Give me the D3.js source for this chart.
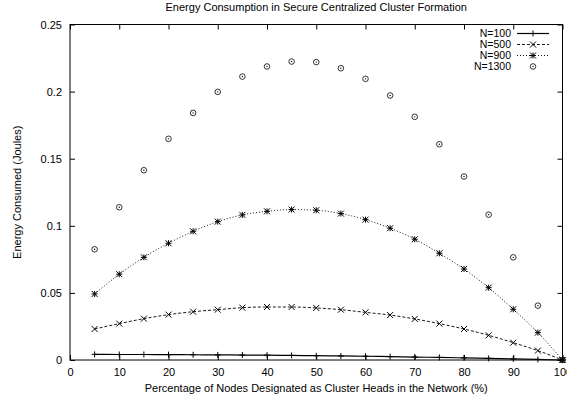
<!DOCTYPE html>
<html>
<head>
<meta charset="utf-8">
<script src="https://cdn.jsdelivr.net/npm/d3@7"></script>
<style>
  body { margin: 0; background: #fff; }
  svg { display: block; font-family: "Liberation Sans", Arial, sans-serif; }
  .axis path { display: none; }
  .axis line { stroke: #000; }
  .axis text { fill: #000; font-size: 11px; }
</style>
</head>
<body>
<svg id="chart" width="567" height="402"></svg>
<script>
// percentage of nodes chosen as cluster heads
var pct = [5, 10, 15, 20, 25, 30, 35, 40, 45, 50, 55, 60, 65, 70, 75, 80, 85, 90, 95, 100];

// energy consumed (joules)
var n100 = [0.0042, 0.0041, 0.0041, 0.0040, 0.0039, 0.0038, 0.0037, 0.0036, 0.0034, 0.0032,
            0.0030, 0.0028, 0.0025, 0.0022, 0.0019, 0.0016, 0.0012, 0.0008, 0.0004, 0];
var n500 = [0.0231, 0.0271, 0.0308, 0.0338, 0.0360, 0.0375, 0.0390, 0.0395, 0.0395, 0.0388,
            0.0375, 0.0355, 0.0335, 0.0306, 0.0271, 0.0231, 0.0184, 0.0129, 0.0070, 0];
var n900 = [0.0492, 0.0639, 0.0765, 0.0870, 0.0959, 0.1031, 0.1081, 0.1108, 0.1121, 0.1116,
            0.1091, 0.1046, 0.0982, 0.0900, 0.0795, 0.0678, 0.0539, 0.0378, 0.0204, 0];
var n1300 = [0.0825, 0.1138, 0.1414, 0.1648, 0.1841, 0.1998, 0.2112, 0.2187, 0.2224, 0.2220,
             0.2174, 0.2095, 0.1971, 0.1812, 0.1608, 0.1367, 0.1083, 0.0765, 0.0405, 0];

var series_names = ["N=100", "N=500", "N=900", "N=1300"];
var x_ticks = [0, 10, 20, 30, 40, 50, 60, 70, 80, 90, 100];
var y_ticks = [0, 0.05, 0.1, 0.15, 0.2, 0.25];

var svg = d3.select("#chart");
// note: "top" is taken by window.top, so the frame edges get a prefix
var plot_left = 70, plot_right = 562.5, plot_top = 24.5, plot_bottom = 360;
var mid_x = (plot_left + plot_right) / 2;

var x = d3.scaleLinear().domain([0, 100]).range([plot_left, plot_right]);
var y = d3.scaleLinear().domain([0, 0.25]).range([plot_bottom, plot_top]);

/* axes: gnuplot style, ticks pointing inward on all four sides */
svg.append("g").attr("class", "axis")
  .attr("transform", "translate(0," + plot_bottom + ")")
  .call(d3.axisBottom(x).tickValues(x_ticks).tickSize(-5).tickPadding(8).tickFormat(d3.format("d")));
svg.append("g").attr("class", "axis")
  .attr("transform", "translate(0," + plot_top + ")")
  .call(d3.axisTop(x).tickValues(x_ticks).tickSize(-5).tickFormat(""));
svg.append("g").attr("class", "axis")
  .attr("transform", "translate(" + plot_left + ",0)")
  .call(d3.axisLeft(y).tickValues(y_ticks).tickSize(-5).tickPadding(8).tickFormat(d3.format("~g")));
svg.append("g").attr("class", "axis")
  .attr("transform", "translate(" + plot_right + ",0)")
  .call(d3.axisRight(y).tickValues(y_ticks).tickSize(-5).tickFormat(""));

svg.append("rect")
  .attr("x", plot_left).attr("y", plot_top)
  .attr("width", plot_right - plot_left).attr("height", plot_bottom - plot_top)
  .attr("fill", "none").attr("stroke", "#000");

/* titles */
svg.append("text")
  .attr("x", mid_x).attr("y", 11)
  .attr("text-anchor", "middle").attr("font-size", "11px")
  .text("Energy Consumption in Secure Centralized Cluster Formation");
svg.append("text")
  .attr("x", mid_x).attr("y", 392)
  .attr("text-anchor", "middle").attr("font-size", "11px")
  .text("Percentage of Nodes Designated as Cluster Heads in the Network (%)");
svg.append("text")
  .attr("transform", "translate(21," + (plot_top + plot_bottom) / 2 + ") rotate(-90)")
  .attr("text-anchor", "middle").attr("font-size", "11px")
  .text("Energy Consumed (Joules)");

/* point markers */
function marker(kind) {
  var s = 3;
  if (kind == "plus") return "M" + (-s) + ",0H" + s + "M0," + (-s) + "V" + s;
  if (kind == "cross") return "M" + (-s) + "," + (-s) + "L" + s + "," + s + "M" + (-s) + "," + s + "L" + s + "," + (-s);
  if (kind == "star") return marker("plus") + marker("cross");
  return "";
}

var series = [
  {"name": series_names[0], "values": n100, "dash": null, "width": 1.2, "mark": "plus"},
  {"name": series_names[1], "values": n500, "dash": "3,2", "width": 0.9, "mark": "cross"},
  {"name": series_names[2], "values": n900, "dash": "1,2", "width": 0.9, "mark": "star"},
  {"name": series_names[3], "values": n1300, "dash": null, "width": 0, "mark": "circle"}
];

var line = d3.line()
  .x(function(d) { return x(d[0]); })
  .y(function(d) { return y(d[1]); })
  .curve(d3.curveMonotoneX);

function draw_mark(g, kind) {
  if (kind == "circle") {
    g.append("circle").attr("r", 2.8).attr("fill", "none").attr("stroke", "#000").attr("stroke-width", 0.8);
    g.append("circle").attr("r", 0.7).attr("fill", "#000");
  } else {
    g.append("path").attr("d", marker(kind)).attr("stroke", "#000").attr("stroke-width", 1).attr("fill", "none");
  }
}

series.forEach(function(s, i) {
  var pts = d3.zip(pct, s.values);
  if (s.width > 0) {
    svg.append("path")
      .datum(pts)
      .attr("d", line)
      .attr("fill", "none")
      .attr("stroke", "#000")
      .attr("stroke-width", s.width)
      .attr("stroke-dasharray", s.dash);
  }
  svg.append("g").selectAll("g")
    .data(pts).enter().append("g")
    .attr("transform", function(d) { return "translate(" + x(d[0]) + "," + y(d[1]) + ")"; })
    .each(function() { draw_mark(d3.select(this), s.mark); });

  // legend entry
  var ly = 33.5 + i * 11;
  svg.append("text")
    .attr("x", 511).attr("y", ly).attr("dy", "0.35em")
    .attr("text-anchor", "end").attr("font-size", "10.5px")
    .text(s.name);
  if (s.width > 0) {
    svg.append("line")
      .attr("x1", 517).attr("x2", 549).attr("y1", ly).attr("y2", ly)
      .attr("stroke", "#000").attr("stroke-width", s.width)
      .attr("stroke-dasharray", s.dash);
  }
  draw_mark(svg.append("g").attr("transform", "translate(533," + ly + ")"), s.mark);
});
</script>
</body>
</html>
